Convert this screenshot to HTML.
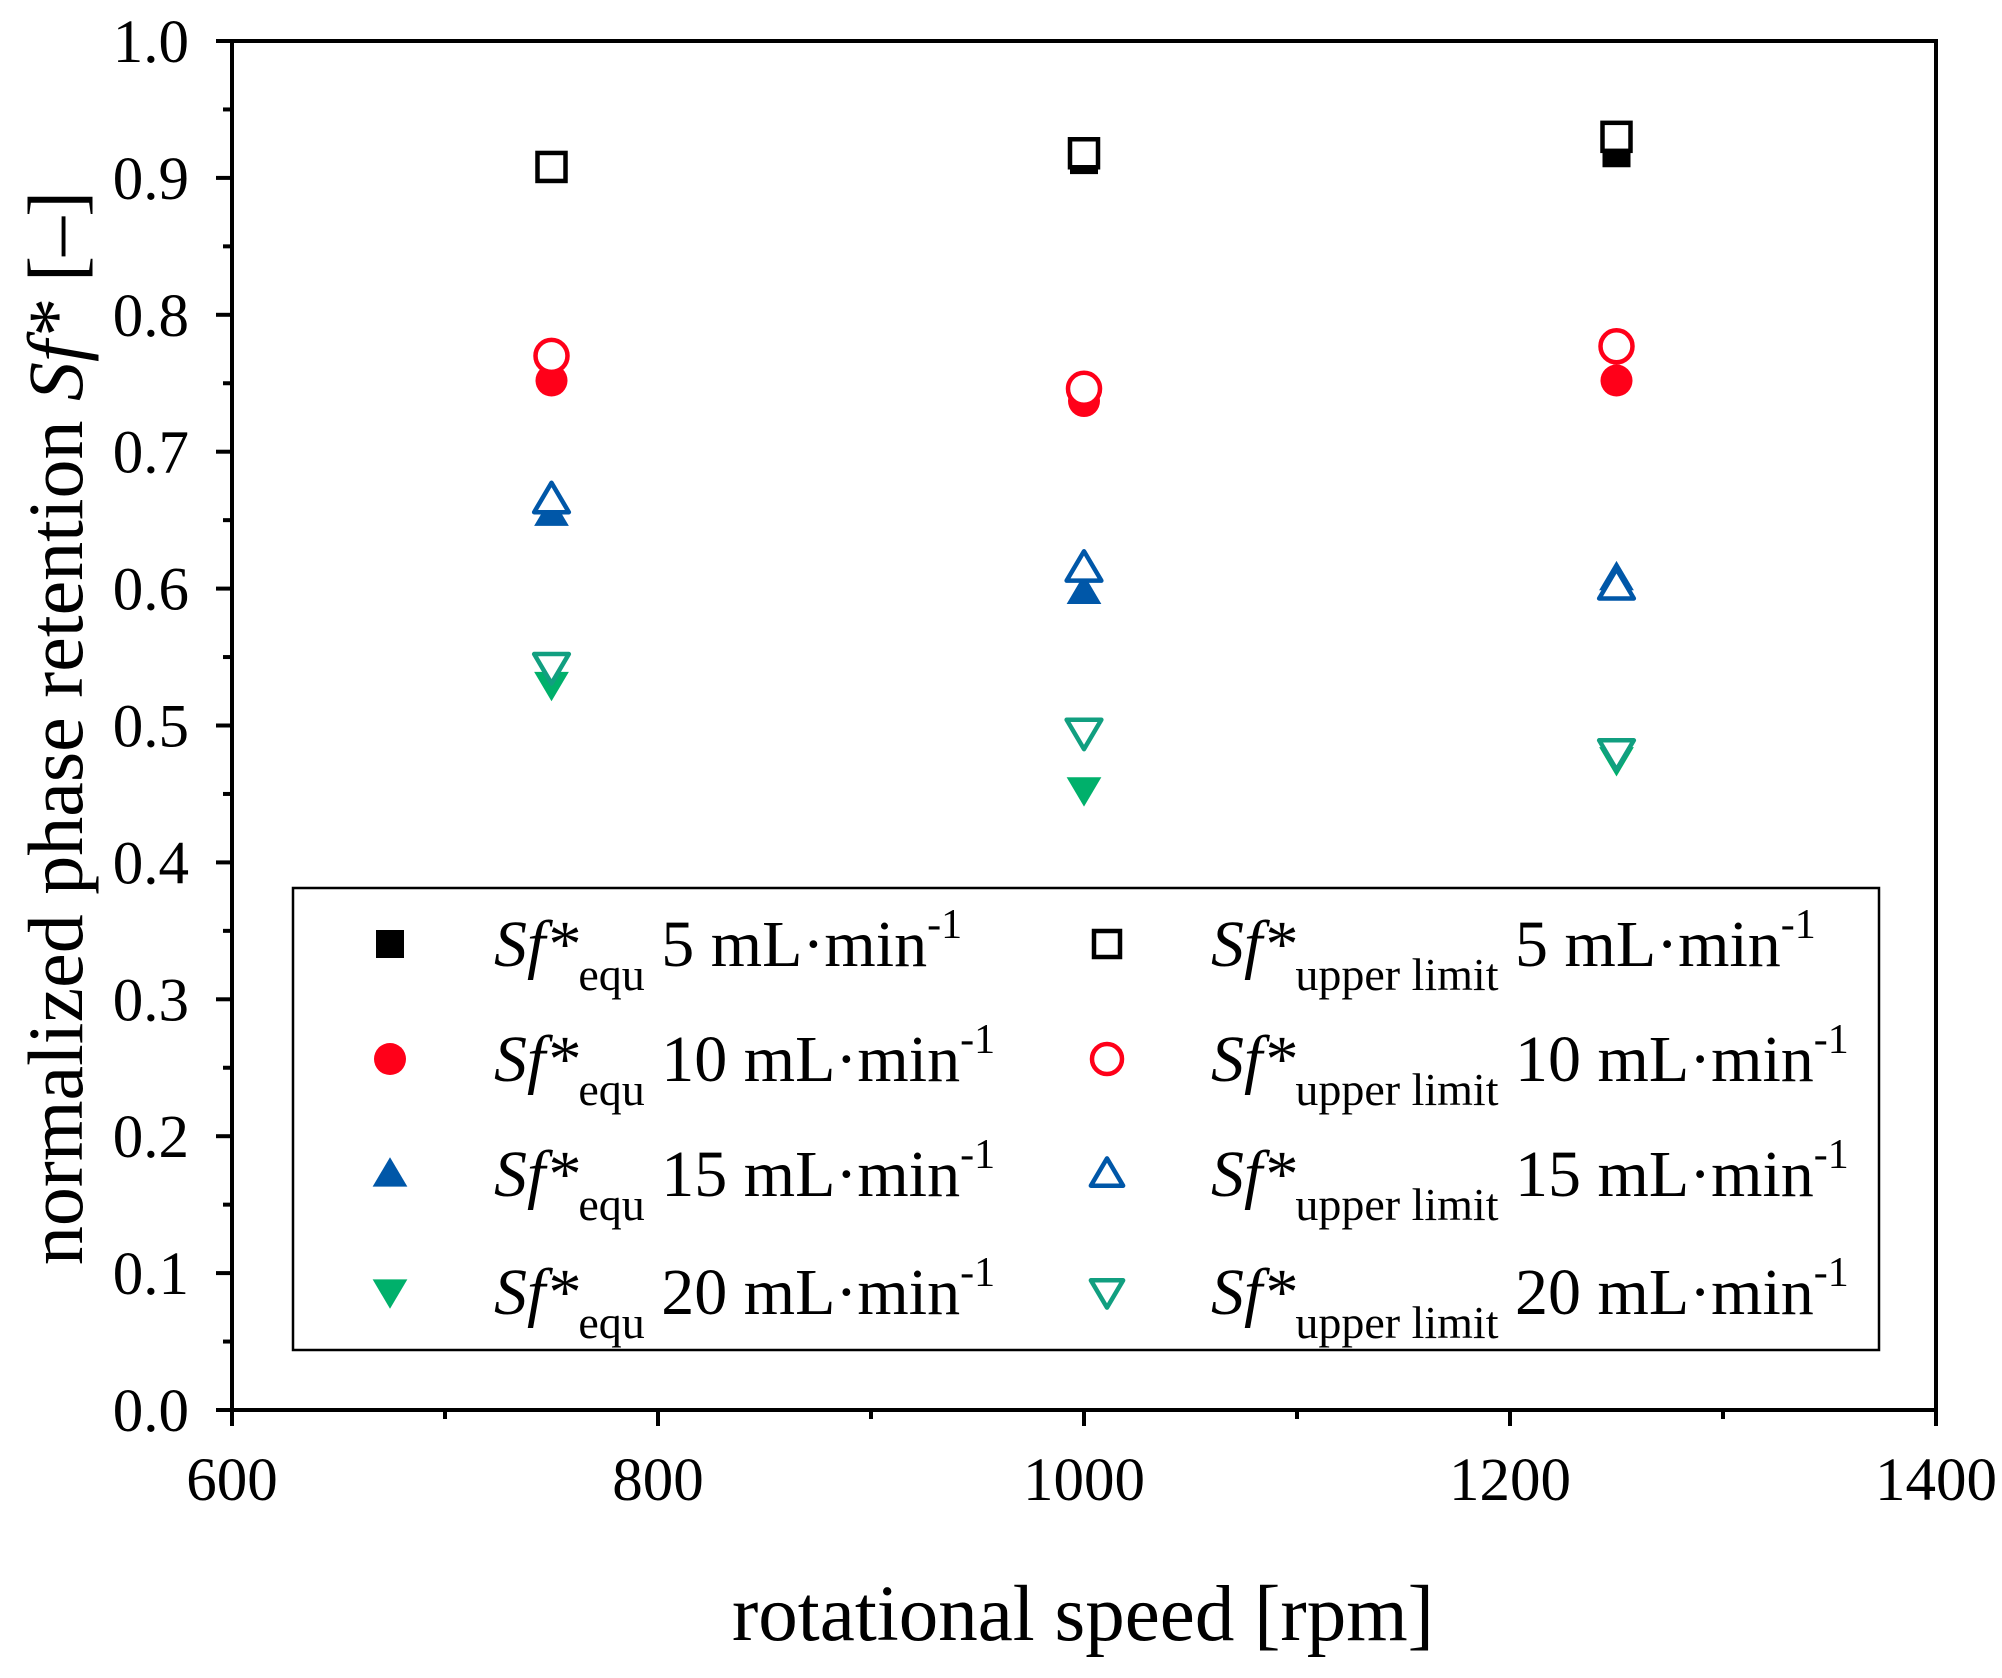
<!DOCTYPE html>
<html><head><meta charset="utf-8"><style>
html,body{margin:0;padding:0;background:#fff;}
svg{display:block;font-family:"Liberation Serif",serif;}
</style></head><body>
<svg id="chart" width="2002" height="1678" viewBox="0 0 2002 1678" xmlns="http://www.w3.org/2000/svg">
<g id="grid-layer"></g>
<g id="marks"></g>
<g id="legend"></g>
</svg>
<script>
const speeds = [750, 1000, 1250];
const equ5 = [0.907, 0.913, 0.918];
const upper5 = [0.908, 0.918, 0.930];
const equ10 = [0.752, 0.737, 0.752];
const upper10 = [0.770, 0.746, 0.777];
const equ15 = [0.655, 0.598, 0.608];
const upper15 = [0.665, 0.615, 0.602];
const equ20 = [0.530, 0.453, 0.475];
const upper20 = [0.543, 0.495, 0.480];
const xTicks = [600, 800, 1000, 1200, 1400];
const yTicks = [0.0, 0.1, 0.2, 0.3, 0.4, 0.5, 0.6, 0.7, 0.8, 0.9, 1.0];

const NS = "http://www.w3.org/2000/svg";
const L = 232, R = 1936, T = 41, B = 1410;
const xMin = 600, xMax = 1400, yMin = 0, yMax = 1;
function xs(v){ return L + (v - xMin) / (xMax - xMin) * (R - L); }
function ys(v){ return B - (v - yMin) / (yMax - yMin) * (B - T); }
function mk(tag, attrs, parent){ const e = document.createElementNS(NS, tag); for (const k in attrs) e.setAttribute(k, attrs[k]); parent.appendChild(e); return e; }

const axes = document.getElementById('grid-layer');
const frame = mk('rect', {x:L, y:T, width:R-L, height:B-T, fill:'none', stroke:'#000', 'stroke-width':4}, axes);


yTicks.forEach((t, i) => {
  const y = ys(t);
  const tk = mk('line', {x1:L-16, x2:L, y1:y, y2:y, stroke:'#000', 'stroke-width':4}, axes);
  
  
  const lb = mk('text', {x:189, y:y+21, 'font-size':61, 'text-anchor':'end', fill:'#000'}, axes);
  
  
  lb.textContent = t.toFixed(1);
  if (i < yTicks.length - 1) {
    const ym = ys(t + 0.05);
    const mn = mk('line', {x1:L-9, x2:L, y1:ym, y2:ym, stroke:'#000', 'stroke-width':4}, axes);
    
    
  }
});
xTicks.forEach((t, i) => {
  const x = xs(t);
  const tk = mk('line', {x1:x, x2:x, y1:B, y2:B+16, stroke:'#000', 'stroke-width':4}, axes);
  
  
  const lb = mk('text', {x:x, y:1500, 'font-size':61, 'text-anchor':'middle', fill:'#000'}, axes);
  
  
  lb.textContent = t;
  if (i < xTicks.length - 1) {
    const xm = xs(t + 100);
    const mn = mk('line', {x1:xm, x2:xm, y1:B, y2:B+9, stroke:'#000', 'stroke-width':4}, axes);
    
    
  }
});
const xt = mk('text', {x:1083, y:1640, 'font-size':79, 'text-anchor':'middle', fill:'#000'}, axes);


xt.textContent = 'rotational speed [rpm]';
const yt = mk('text', {x:0, y:0, 'font-size':78, 'text-anchor':'middle', fill:'#000', transform:'translate(82,728) rotate(-90)'}, axes);


yt.innerHTML = 'normalized phase retention <tspan font-style="italic">Sf*</tspan> [–]';

const RED = '#ff0019', BLUE = '#0057a8', GREEN = '#00b06b', TEAL = '#119f80';
function marker(parent, shape, cx, cy, color, filled, s){
  const sw = 4.5;
  const fill = filled ? color : '#fff';
  let e;
  if (shape === 'square') {
    e = mk('rect', {x:cx-s/2, y:cy-s/2, width:s, height:s, fill:fill, stroke:color, 'stroke-width': filled?0:sw}, parent);
  } else if (shape === 'circle') {
    e = mk('circle', {cx:cx, cy:cy, r:s/2+2, fill:fill, stroke:color, 'stroke-width': filled?0:sw}, parent);
  } else if (shape === 'up') {
    const h = s*1.0;
    e = mk('polygon', {points:`${cx},${cy-h*0.6} ${cx+s*0.62},${cy+h*0.45} ${cx-s*0.62},${cy+h*0.45}`, fill:fill, stroke:color, 'stroke-width': filled?0:sw, 'stroke-linejoin':'round'}, parent);
  } else {
    const h = s*1.0;
    e = mk('polygon', {points:`${cx},${cy+h*0.6} ${cx+s*0.62},${cy-h*0.45} ${cx-s*0.62},${cy-h*0.45}`, fill:fill, stroke:color, 'stroke-width': filled?0:sw, 'stroke-linejoin':'round'}, parent);
  }
  return e;
}
const series = [
  {vals:equ5, shape:'square', color:'#000', filled:true, name:'equ-5'},
  {vals:equ10, shape:'circle', color:RED, filled:true, name:'equ-10'},
  {vals:equ15, shape:'up', color:BLUE, filled:true, name:'equ-15'},
  {vals:equ20, shape:'down', color:GREEN, filled:true, name:'equ-20'},
  {vals:upper5, shape:'square', color:'#000', filled:false, name:'upper-5'},
  {vals:upper10, shape:'circle', color:RED, filled:false, name:'upper-10'},
  {vals:upper15, shape:'up', color:BLUE, filled:false, name:'upper-15'},
  {vals:upper20, shape:'down', color:TEAL, filled:false, name:'upper-20'}
];
const marks = document.getElementById('marks');
series.forEach(sr => {
  sr.vals.forEach((v, i) => {
    const m = marker(marks, sr.shape, xs(speeds[i]), ys(v), sr.color, sr.filled, 28);
    
    
  });
});

const lg = document.getElementById('legend');
const box = mk('rect', {x:293, y:888, width:1586, height:462, fill:'#fff', stroke:'#000', 'stroke-width':2.5}, lg);


const rowsY = [944, 1059, 1174, 1292];
const flows = ['5', '10', '15', '20'];
const rowShapes = [['square','#000','#000'],['circle',RED,RED],['up',BLUE,BLUE],['down',GREEN,TEAL]];
rowsY.forEach((y, i) => {
  const [shape, c1, c2] = rowShapes[i];
  const m1 = marker(lg, shape, 390, y, c1, true, 28);
  
  
  const m2 = marker(lg, shape, 1107, y, c2, false, 26);
  
  
  const t1 = mk('text', {x:494, y:y+22, 'font-size':66, fill:'#000'}, lg);
  
  
  t1.innerHTML = '<tspan font-style="italic">Sf*</tspan><tspan font-size="46" dy="24">equ</tspan><tspan dy="-24"> ' + flows[i] + ' mL·min</tspan><tspan font-size="42" dy="-28">-1</tspan>';
  const t2 = mk('text', {x:1211, y:y+22, 'font-size':66, fill:'#000'}, lg);
  
  
  t2.innerHTML = '<tspan font-style="italic">Sf*</tspan><tspan font-size="46" dy="24">upper limit</tspan><tspan dy="-24"> ' + flows[i] + ' mL·min</tspan><tspan font-size="42" dy="-28">-1</tspan>';
});
</script>
</body></html>
